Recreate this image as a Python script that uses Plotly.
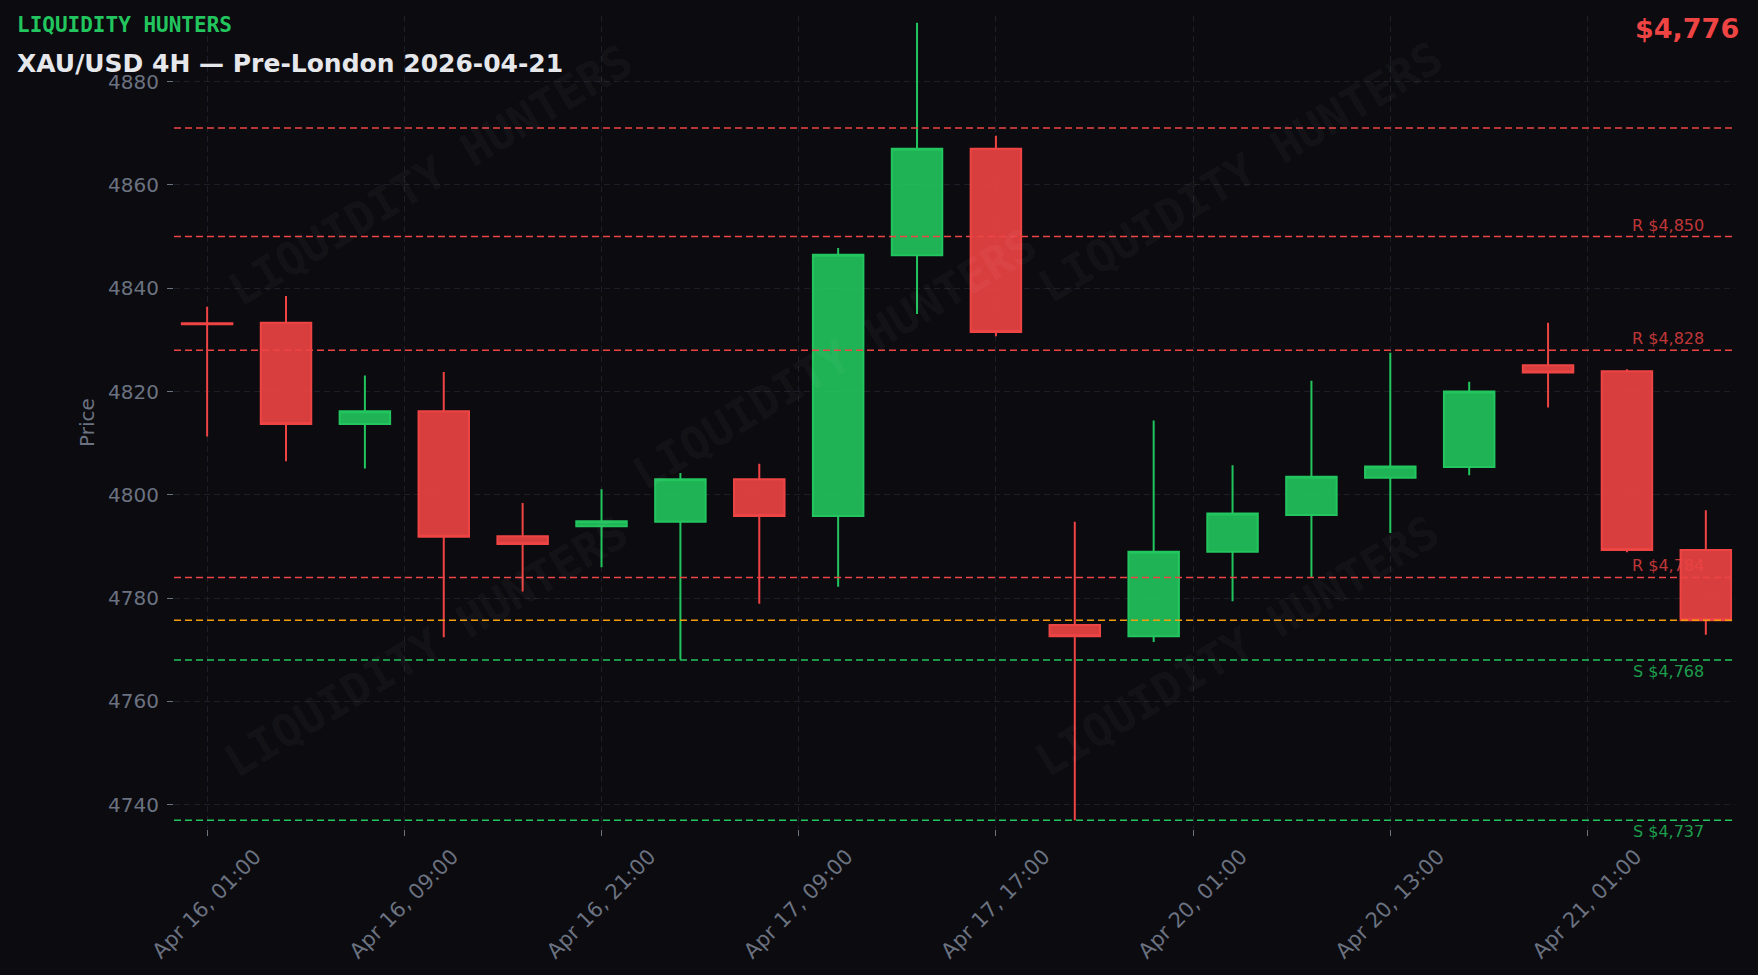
import plotly.graph_objects as go

# ---- data ----
candle_idx = list(range(20))
opens  = [4833.2, 4833.3, 4813.7, 4816.2, 4792.0, 4793.9, 4794.8, 4803.0, 4795.9, 4846.4,
          4867.0, 4774.8, 4772.6, 4789.0, 4796.1, 4803.3, 4805.4, 4825.1, 4823.9, 4789.3]
highs  = [4836.4, 4838.5, 4823.1, 4823.8, 4798.4, 4801.1, 4804.2, 4806.0, 4847.8, 4891.4,
          4869.5, 4794.8, 4814.4, 4805.7, 4822.1, 4827.5, 4821.9, 4833.3, 4824.3, 4797.0]
lows   = [4811.3, 4806.5, 4805.1, 4772.4, 4781.3, 4786.0, 4768.1, 4778.9, 4782.2, 4835.0,
          4830.7, 4737.0, 4771.5, 4779.4, 4784.0, 4792.6, 4803.8, 4816.9, 4788.9, 4772.9]
closes = [4833.0, 4813.7, 4816.2, 4791.9, 4790.5, 4794.9, 4803.0, 4795.9, 4846.5, 4867.0,
          4831.5, 4772.6, 4789.0, 4796.4, 4803.5, 4805.5, 4820.0, 4823.7, 4789.3, 4775.7]

tick_positions = [0, 2.5, 5, 7.5, 10, 12.5, 15, 17.5]
tick_labels = ["Apr 16, 01:00", "Apr 16, 09:00", "Apr 16, 21:00", "Apr 17, 09:00",
               "Apr 17, 17:00", "Apr 20, 01:00", "Apr 20, 13:00", "Apr 21, 01:00"]

resistance_levels = [4850, 4828, 4784]
support_levels = [4768, 4737]
upper_level = 4871
current_price = 4775.7
current_label = "$4,776"

title_brand = "LIQUIDITY HUNTERS"
title_main = "XAU/USD 4H — Pre-London 2026-04-21"

# watermark centres (paper coords)
wm_x = [0.164, 0.683, 0.423, 0.162, 0.681]
wm_y = [0.804, 0.808, 0.578, 0.224, 0.224]

BG = "#0b0b10"
GREEN = "#22c55e"
RED = "#ef4444"
ORANGE = "#f59e0b"
GRAY = "#6b7280"
GRID = "#1e1e28"
DASH = "7px,4px"

fig = go.Figure()

fig.add_trace(go.Candlestick(
    x=candle_idx, open=opens, high=highs, low=lows, close=closes,
    increasing=dict(line=dict(color=GREEN, width=2), fillcolor="rgba(34,197,94,0.9)"),
    decreasing=dict(line=dict(color=RED, width=2), fillcolor="rgba(239,68,68,0.9)"),
    showlegend=False, hoverinfo="skip",
))

last_x = candle_idx[-1]

def hline(y, color):
    fig.add_shape(type="line", xref="paper", x0=0, x1=1, yref="y", y0=y, y1=y,
                  line=dict(color=color, width=1.5, dash=DASH), layer="above")

hline(upper_level, RED)
for lv in resistance_levels:
    hline(lv, RED)
    fig.add_annotation(x=last_x, y=lv, xref="x", yref="y", text=f"R ${lv:,}",
                       showarrow=False, xanchor="right", yanchor="bottom",
                       font=dict(family="DejaVu Sans", size=16, color="rgba(239,68,68,0.8)"))
hline(current_price, ORANGE)
for lv in support_levels:
    hline(lv, GREEN)
    fig.add_annotation(x=last_x, y=lv, xref="x", yref="y", text=f"S ${lv:,}",
                       showarrow=False, xanchor="right", yanchor="top",
                       font=dict(family="DejaVu Sans", size=16, color="rgba(34,197,94,0.8)"))

for wx, wy in zip(wm_x, wm_y):
    fig.add_annotation(x=wx, y=wy, xref="paper", yref="paper", text=title_brand,
                       showarrow=False, textangle=-31, xanchor="center", yanchor="middle",
                       font=dict(family="DejaVu Sans Mono", size=45, color="rgba(255,255,255,0.05)",
                                 weight="bold"))

fig.add_annotation(x=-0.1019, y=0.9886, xref="paper", yref="paper", text=f"<b>{title_brand}</b>",
                   showarrow=False, xanchor="left", yanchor="middle",
                   font=dict(family="DejaVu Sans Mono", size=21, color=GREEN))
fig.add_annotation(x=-0.1017, y=0.941, xref="paper", yref="paper", text=f"<b>{title_main}</b>",
                   showarrow=False, xanchor="left", yanchor="middle",
                   font=dict(family="DejaVu Sans", size=25, color="#e5e7eb"))
fig.add_annotation(x=1.0038, y=0.985, xref="paper", yref="paper", text=f"<b>{current_label}</b>",
                   showarrow=False, xanchor="right", yanchor="middle",
                   font=dict(family="DejaVu Sans", size=27, color=RED))

fig.update_layout(
    width=1758, height=975,
    paper_bgcolor=BG, plot_bgcolor=BG,
    margin=dict(l=174, r=23, t=16, b=146),
    font=dict(family="DejaVu Sans", color=GRAY, size=20),
    showlegend=False,
    boxgap=0.36, boxgroupgap=0,
    xaxis=dict(
        range=[-0.42, 19.37], rangeslider=dict(visible=False),
        tickmode="array", tickvals=tick_positions, ticktext=tick_labels,
        tickangle=-45, tickfont=dict(size=21, color=GRAY), ticklabelshift=48,
        showgrid=True, gridcolor=GRID, griddash="6px,4px", gridwidth=1,
        ticks="outside", ticklen=6, tickcolor=GRAY, zeroline=False, showline=False,
    ),
    yaxis=dict(
        range=[4735.3, 4892.7], tickvals=[4740, 4760, 4780, 4800, 4820, 4840, 4860, 4880],
        tickfont=dict(size=20, color=GRAY), ticklabelstandoff=4,
        title=dict(text="Price", font=dict(size=20, color=GRAY), standoff=8),
        showgrid=True, gridcolor=GRID, griddash="6px,4px", gridwidth=1,
        ticks="outside", ticklen=6, tickcolor=GRAY, zeroline=False, showline=False,
    ),
)

fig.write_html(
    "out.html",
    config={"displayModeBar": False},
    post_script="document.body.style.margin='0';document.body.style.background='#0b0b10';",
)
